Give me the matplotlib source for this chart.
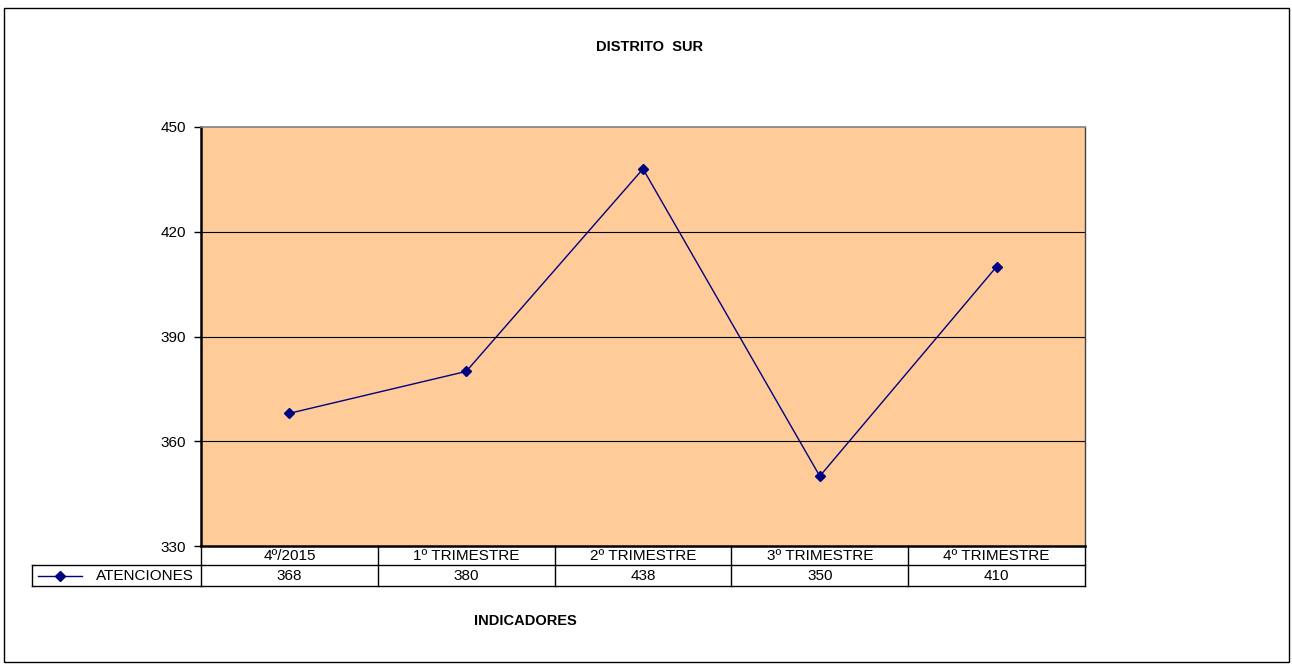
import matplotlib
matplotlib.use("Agg")
import matplotlib.pyplot as plt
from matplotlib.patches import Rectangle
from matplotlib.lines import Line2D
import matplotlib.transforms as mtransforms

categories = ["4º/2015", "1º TRIMESTRE", "2º TRIMESTRE", "3º TRIMESTRE", "4º TRIMESTRE"]
values = [368, 380, 438, 350, 410]
series_name = "ATENCIONES"
yticks = [330, 360, 390, 420, 450]

plt.rcParams['font.family'] = ['Liberation Sans', 'DejaVu Sans']

W, H = 1292, 666
fig = plt.figure(figsize=(W / 100, H / 100), dpi=100)
fig.patch.set_facecolor('white')

# outer frame
fig.patches.append(Rectangle((4 / W, 4 / H), (1289 - 4) / W, (658 - 8) / H + 0.006,
                             transform=fig.transFigure, fill=False, edgecolor='black', lw=1))

left, right, top, bottom = 201, 1085, 127, 546
ax = fig.add_axes([left / W, (H - bottom) / H, (right - left) / W, (bottom - top) / H])
ax.set_facecolor('#FFCC99')

n = len(categories)
x = list(range(n))
ax.plot(x, values, color='#000080', lw=1, marker='D', markersize=5.5,
        markerfacecolor='#000080', markeredgecolor='#000080', zorder=5)

ax.set_xlim(-0.5, n - 0.5)
ax.set_ylim(330, 450)
ax.set_yticks(yticks)
ax.set_yticklabels([str(t) for t in yticks], fontsize=11)
ax.set_xticks([])
for t in yticks[1:-1]:
    ax.axhline(t, color='black', lw=0.8, zorder=1)
ax.tick_params(axis='y', length=5, width=1, pad=6, colors='black')

ax.spines['left'].set_linewidth(1.8)
ax.spines['bottom'].set_linewidth(1.8)
ax.spines['top'].set_color('#808080')
ax.spines['top'].set_linewidth(1.2)
ax.spines['right'].set_color('#404040')
ax.spines['right'].set_linewidth(1.0)

# data table below the axes
trans = mtransforms.blended_transform_factory(ax.transData, ax.transAxes)
h1 = 19 / (bottom - top)
h2 = 21 / (bottom - top)
y0, y1, y2 = 0.0, -h1, -h1 - h2
leg_left = (32 - left) / (right - left)

def hline(xa, xb, y, tr, **kw):
    ax.add_line(Line2D([xa, xb], [y, y], transform=tr, clip_on=False, color='black', lw=1, **kw))

def vline(xv, ya, yb, tr, **kw):
    ax.add_line(Line2D([xv, xv], [ya, yb], transform=tr, clip_on=False, color='black', lw=1, **kw))

hline(-0.5, n - 0.5, y1, trans)
hline(-0.5, n - 0.5, y2, trans)
hline(leg_left, 0, y1, ax.transAxes)
hline(leg_left, 0, y2, ax.transAxes)
vline(leg_left, y1, y2, ax.transAxes)
for i in range(n + 1):
    vline(i - 0.5, y0, y2, trans)

for i, (c, v) in enumerate(zip(categories, values)):
    ax.text(i, (y0 + y1) / 2, c, transform=trans, ha='center', va='center', fontsize=11)
    ax.text(i, (y1 + y2) / 2, str(v), transform=trans, ha='center', va='center', fontsize=11)

# legend key in table
ym = (y1 + y2) / 2
kx0 = (38 - left) / (right - left)
kx1 = (82 - left) / (right - left)
ax.add_line(Line2D([kx0, kx1], [ym, ym], transform=ax.transAxes, clip_on=False, color='#000080', lw=1))
ax.add_line(Line2D([(kx0 + kx1) / 2], [ym], transform=ax.transAxes, clip_on=False, marker='D',
                   markersize=5.5, color='#000080', lw=0))
ax.text((194 - left) / (right - left), ym, series_name, transform=ax.transAxes,
        ha='right', va='center', fontsize=11)

fig.text(649 / W, 1 - 47 / H, "DISTRITO  SUR", ha='center', va='center', fontsize=10.5, fontweight='bold')
fig.text(525 / W, 1 - 621 / H, "INDICADORES", ha='center', va='center', fontsize=10.5, fontweight='bold')

fig.savefig("out.png", dpi=100, facecolor='white')
